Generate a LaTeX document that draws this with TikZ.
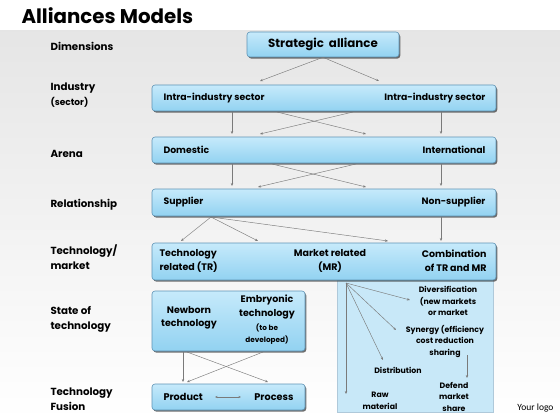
\documentclass[tikz,border=0pt]{standalone}
\usepackage{fontspec}
\setmainfont{Poppins}
\newfontfamily\logofont{Carlito}
\usetikzlibrary{shadows,arrows.meta}
\definecolor{boxtop}{HTML}{C6EAFB}
\definecolor{boxbot}{HTML}{92D2F1}
\definecolor{boxline}{HTML}{5E93B5}
\definecolor{panelfill}{HTML}{C8E8F8}
\definecolor{linegray}{HTML}{7A7A7A}
\begin{document}
\begin{tikzpicture}[x=1pt, y=-1pt, font=\bfseries\fontsize{9.3}{11}\selectfont,
		box/.style = {draw=boxline, line width=0.6pt, rounded corners=3pt, top color=boxtop, bottom color=boxbot,
			drop shadow={shadow xshift=1.3pt, shadow yshift=-1.6pt, fill=black!75, opacity=0.75}},
		lbl/.style = {anchor=west, align=left, font=\bfseries\fontsize{10.3}{15}\selectfont},
		small/.style = {align=center, font=\bfseries\fontsize{7.8}{11.5}\selectfont},
		arr/.style = {draw=linegray, line width=0.45pt, -{Stealth[length=3pt, width=2.4pt]}}]

		\useasboundingbox (0,0) rectangle (560,420);
		\fill[white] (0,0) rectangle (560,420);
		\shade[top color=black!10, bottom color=white] (0,31) rectangle (560,420);

		\node[anchor=west, font=\bfseries\fontsize{19.8}{22}\selectfont] (title) at (18,16) {Alliances Models};

		% left column
		\node[lbl] (dim) at (47,46) {Dimensions};
		\node[lbl] (ind) at (47,95.5) {Industry\\{\fontsize{9}{11}\selectfont(sector)}};
		\node[lbl] (are) at (47,154) {Arena};
		\node[lbl] (rel) at (47,205) {Relationship};
		\node[lbl] (tem) at (47,257.5) {Technology/\\market};
		\node[lbl] (sot) at (47,319.5) {State of\\technology};
		\node[lbl] (fus) at (47,399.5) {Technology\\Fusion};

		% boxes
		\node[draw=boxline!50, line width=0.4pt, fill=panelfill, minimum width=156pt, minimum height=132pt] (panel) at (415,346) {};
		\node[box, minimum width=152pt, minimum height=25pt, font=\bfseries\fontsize{11.8}{13}\selectfont] (strat) at (323,44.5) {Strategic\ \ alliance};
		\node[box, minimum width=344pt, minimum height=26pt] (intra) at (324,98) {};
		\node[box, minimum width=344pt, minimum height=26pt] (dom) at (324,150) {};
		\node[box, minimum width=344pt, minimum height=27pt] (sup) at (324,202.5) {};
		\node[box, minimum width=344pt, minimum height=37pt] (tech) at (324,261.5) {};
		\node[box, minimum width=153pt, minimum height=60pt] (state) at (228.5,321) {};
		\node[box, minimum width=153pt, minimum height=26pt] (fusion) at (228.5,397) {};

		% box texts
		\node[anchor=west] (intraL) at (160,98) {Intra-industry sector};
		\node[anchor=east] (intraR) at (489,98) {Intra-industry sector};
		\node[anchor=west] (domL) at (160,150) {Domestic};
		\node[anchor=east] (domR) at (489,150) {International};
		\node[anchor=west] (supL) at (160,202) {Supplier};
		\node[anchor=east] (supR) at (489,202) {Non-supplier};
		\node[anchor=west, align=left, font=\bfseries\fontsize{9.5}{14}\selectfont] (tr) at (156,261) {Technology\\related (TR)};
		\node[align=center, font=\bfseries\fontsize{9.5}{14}\selectfont] (mr) at (330,261) {Market related\\(MR)};
		\node[anchor=east, align=right, font=\bfseries\fontsize{9.5}{14}\selectfont] (comb) at (490,261) {Combination\\of TR and MR};
		\node[align=center, font=\bfseries\fontsize{9.5}{13}\selectfont] (newb) at (189,318) {Newborn\\technology};
		\node[align=center, font=\bfseries\fontsize{9.5}{13.5}\selectfont] (embr) at (267,307) {Embryonic\\technology};
		\node[align=center, font=\bfseries\fontsize{7.3}{12}\selectfont] (tobe) at (267,334) {(to be\\developed)};
		\node[anchor=west, font=\bfseries\fontsize{9.7}{11}\selectfont] (prod) at (160,397) {Product};
		\node[anchor=east, font=\bfseries\fontsize{9.7}{11}\selectfont] (proc) at (297,397) {Process};

		% panel texts
		\node[small] (div) at (448,301) {Diversification\\(new markets\\or market};
		\node[small] (syn) at (445,341.5) {Synergy (efficiency\\cost reduction\\sharing};
		\node[small] (dist) at (398,370) {Distribution};
		\node[small] (def) at (454,396.5) {Defend\\market\\share};
		\node[small] (raw) at (380,401) {Raw\\material};

		\node[anchor=east, font=\logofont\mdseries\fontsize{9.5}{11}\selectfont] (logo) at (557,408) {Your logo};

		% arrow ends
		\coordinate (s1) at (260,81);
		\coordinate (s2) at (379,81);
		\coordinate (o) at (346,283);
		\coordinate (o1) at (410,300);
		\coordinate (o2) at (396,330);
		\coordinate (o3) at (383,360);
		\coordinate (o4) at (346,394);
		\coordinate (f1) at (215,397);
		\coordinate (f2) at (241,397);

		\draw[arr] (strat.south) -- (s1);
		\draw[arr] (strat.south) -- (s2);

		\draw[arr] (232,112) -- (232,134);
		\draw[arr] (441,112) -- (441,134);
		\draw[arr] (277,112) -- (366,134);
		\draw[arr] (353,112) -- (260,134);

		\draw[arr] (232,164) -- (232,186);
		\draw[arr] (441,164) -- (441,186);
		\draw[arr] (272,164) -- (366,187);
		\draw[arr] (356,164) -- (258,187);

		\draw[arr] (211,217) -- (181,241);
		\draw[arr] (211,217) -- (258,241);
		\draw[arr] (211,217) -- (388,241);
		\draw[arr] (441,217) -- (441,241);

		\draw[arr] (183,352) -- (183,382);
		\draw[arr] (187,352) -- (268,382);
		\draw[arr] (263,352) -- (187,382);
		\draw[draw=linegray, line width=0.45pt, {Stealth[length=2.5pt, width=2pt]}-{Stealth[length=2.5pt, width=2pt]}] (f1) -- (f2);

		\draw[arr] (o) -- (o1);
		\draw[arr] (o) -- (o2);
		\draw[arr] (o) -- (o3);
		\draw[arr] (o) -- (o4);
		\draw[arr] (467,355) -- (467,378);
	\end{tikzpicture}
\end{document}
